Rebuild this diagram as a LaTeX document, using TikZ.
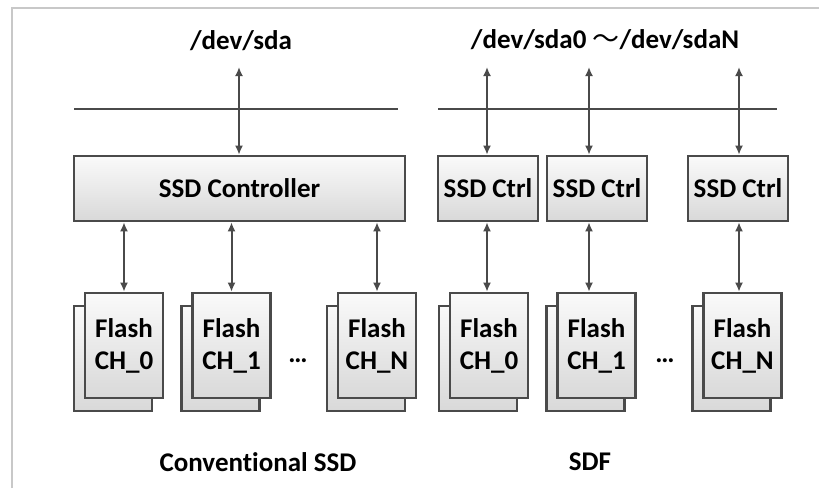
\documentclass[tikz,border=0pt]{standalone}
\usepackage{fontspec}
\setmainfont[Ligatures=NoCommon]{Carlito}
\newfontfamily\cjk{Noto Sans CJK SC}
\usetikzlibrary{arrows.meta}
\definecolor{edge}{HTML}{4A4A4A}
\definecolor{frame}{HTML}{C8C8C8}

\begin{document}
\begin{tikzpicture}[x=1pt,y=-1pt,font=\fontsize{27}{32}\selectfont\bfseries,
    box/.style={draw=edge, line width=2.6pt, top color=gray!4, bottom color=gray!30, inner sep=0pt, minimum height=65pt},
    flash/.style={box, minimum width=78pt, minimum height=105pt, align=center},
    link/.style={draw=edge, line width=2pt, {Latex[length=9pt,width=8pt]}-{Latex[length=9pt,width=8pt]}},
    bus/.style={draw=edge, line width=2.6pt}]
    \useasboundingbox (0,0) rectangle (819,488);
    \draw[frame, line width=2pt] (12,488) -- (12,8) -- (819,8);
    % conventional ssd
    \node (devL) at (241,41) {/dev/sda};
    \coordinate (tL) at (239,67);
    \draw[bus] (74,109) -- (398,109);
    \node[box, minimum width=331pt] (C) at (239.5,188.5) {SSD Controller};
    \draw[link] (tL) -- (tL |- C.north);
    \node[flash] (B0) at (113,358.5) {}; \node[flash] (F0) at (124,345.5)
    {Flash\\CH\_0};
    \node[flash] (B1) at (220.5,358.5) {}; \node[flash] (F1) at (231.5,345.5)
    {Flash\\CH\_1};
    \node[flash] (BN) at (366,358.5) {}; \node[flash] (FN) at (377,345.5)
    {Flash\\CH\_N};
    \node (dotL) at (298,361) {…};
    \draw[link] (C.south -| F0.north) -- (F0.north);
    \draw[link] (C.south -| F1.north) -- (F1.north);
    \draw[link] (C.south -| FN.north) -- (FN.north);
    \node (capL) at (258,462) {Conventional SSD};
    % sdf
    \node (devR) at (605,40) {/dev/sda0 {\cjk\mdseries 〜}/dev/sdaN};
    \draw[bus] (438,109) -- (777,109);
    \node[box, minimum width=100pt] (S0) at (488,188.5) {SSD Ctrl};
    \node[box, minimum width=100pt] (S1) at (597,188.5) {SSD Ctrl};
    \node[box, minimum width=100pt] (SN) at (738,188.5) {SSD Ctrl};
    \coordinate (t0) at (487,67); \coordinate (t1) at (589,67);
    \coordinate (tN) at (739,67);
    \draw[link] (t0) -- (t0 |- S0.north);
    \draw[link] (t1) -- (t1 |- S1.north);
    \draw[link] (tN) -- (tN |- SN.north);
    \node[flash] (D0) at (478,358.5) {}; \node[flash] (G0) at (489,345.5)
    {Flash\\CH\_0};
    \node[flash] (D1) at (585.5,358.5) {}; \node[flash] (G1) at (596.5,345.5)
    {Flash\\CH\_1};
    \node[flash] (DN) at (731.5,358.5) {}; \node[flash] (GN) at (742.5,345.5)
    {Flash\\CH\_N};
    \node (dotR) at (665,361) {…};
    \draw[link] (S0.south -| t0) -- (G0.north -| t0);
    \draw[link] (S1.south -| t1) -- (G1.north -| t1);
    \draw[link] (SN.south -| tN) -- (GN.north -| tN);
    \node (capR) at (590,462) {SDF};
\end{tikzpicture}
\end{document}
